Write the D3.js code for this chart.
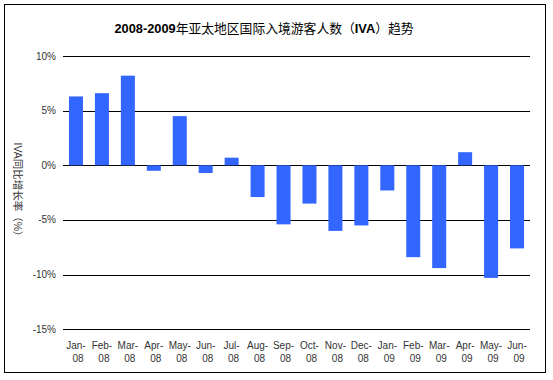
<!DOCTYPE html>
<html><head><meta charset="utf-8">
<script src="https://cdn.jsdelivr.net/npm/d3@7"></script>
<style>body{margin:0;background:#fff}svg{display:block}</style>
</head><body>
<script>
const months = ["Jan-","Feb-","Mar-","Apr-","May-","Jun-","Jul-","Aug-","Sep-","Oct-","Nov-","Dec-","Jan-","Feb-","Mar-","Apr-","May-","Jun-"];
const years = ["08","08","08","08","08","08","08","08","08","08","08","08","09","09","09","09","09","09"];
const values = [6.3,6.6,8.2,-0.5,4.5,-0.7,0.7,-2.9,-5.4,-3.5,-6.0,-5.5,-2.3,-8.4,-9.4,1.2,-10.3,-7.6];
const yTicks = [10,5,0,-5,-10,-15];
const titleParts = [["2008-2009",true],["年亚太地区国际入境游客人数（",false],["IVA",true],["）趋势",false]];
const yLabel = "IVA同比增长率（%）";

const W=553,H=380;
const svg=d3.select("body").append("svg").attr("width",W).attr("height",H);
svg.append("rect").attr("x",4.5).attr("y",4.5).attr("width",541).attr("height",368)
  .attr("fill","#fff").attr("stroke","#000").attr("stroke-width",1);

const cats=months.map((m,i)=>i);
const x=d3.scaleBand().domain(cats).range([63,530]).paddingInner(0.46).paddingOuter(0.23);
const y=d3.scaleLinear().domain([-15,10]).range([329.3,56]);
const font="Arial, 'Liberation Sans', 'Noto Sans CJK SC', sans-serif";

const t=svg.append("text").attr("x",264).attr("y",33).attr("text-anchor","middle")
  .attr("font-family",font).attr("font-size",12.8).attr("fill","#000");
t.selectAll("tspan").data(titleParts).join("tspan").attr("font-weight",d=>d[1]?"bold":"normal").text(d=>d[0]);

const g=svg.append("g");
g.selectAll("line.grid").data(yTicks).join("line").attr("class","grid")
  .attr("x1",63).attr("x2",530).attr("y1",d=>Math.round(y(d))+0.5).attr("y2",d=>Math.round(y(d))+0.5)
  .attr("stroke","#000").attr("stroke-width",1);
g.selectAll("text.yt").data(yTicks).join("text").attr("class","yt")
  .attr("x",56).attr("y",d=>y(d)+3.5).attr("text-anchor","end")
  .attr("font-family",font).attr("font-size",10).attr("fill","#333").text(d=>d+"%");

g.selectAll("rect.bar").data(values).join("rect").attr("class","bar")
  .attr("x",(d,i)=>x(i)).attr("width",x.bandwidth())
  .attr("y",d=>y(Math.max(0,d))).attr("height",d=>Math.abs(y(d)-y(0)))
  .attr("fill","#3366ff");

const xl=g.selectAll("text.xl").data(cats).join("text").attr("class","xl")
  .attr("text-anchor","middle").attr("font-family",font).attr("font-size",10).attr("fill","#333");
xl.append("tspan").attr("x",i=>x(i)+x.bandwidth()/2).attr("y",349).text(i=>months[i]);
xl.append("tspan").attr("x",i=>x(i)+x.bandwidth()/2+2).attr("y",362).text(i=>years[i]);

svg.append("text").attr("transform","translate(14,192) rotate(90)").attr("text-anchor","middle")
  .attr("font-family",font).attr("font-size",10.5).attr("fill","#333").text(yLabel);
</script>
</body></html>
